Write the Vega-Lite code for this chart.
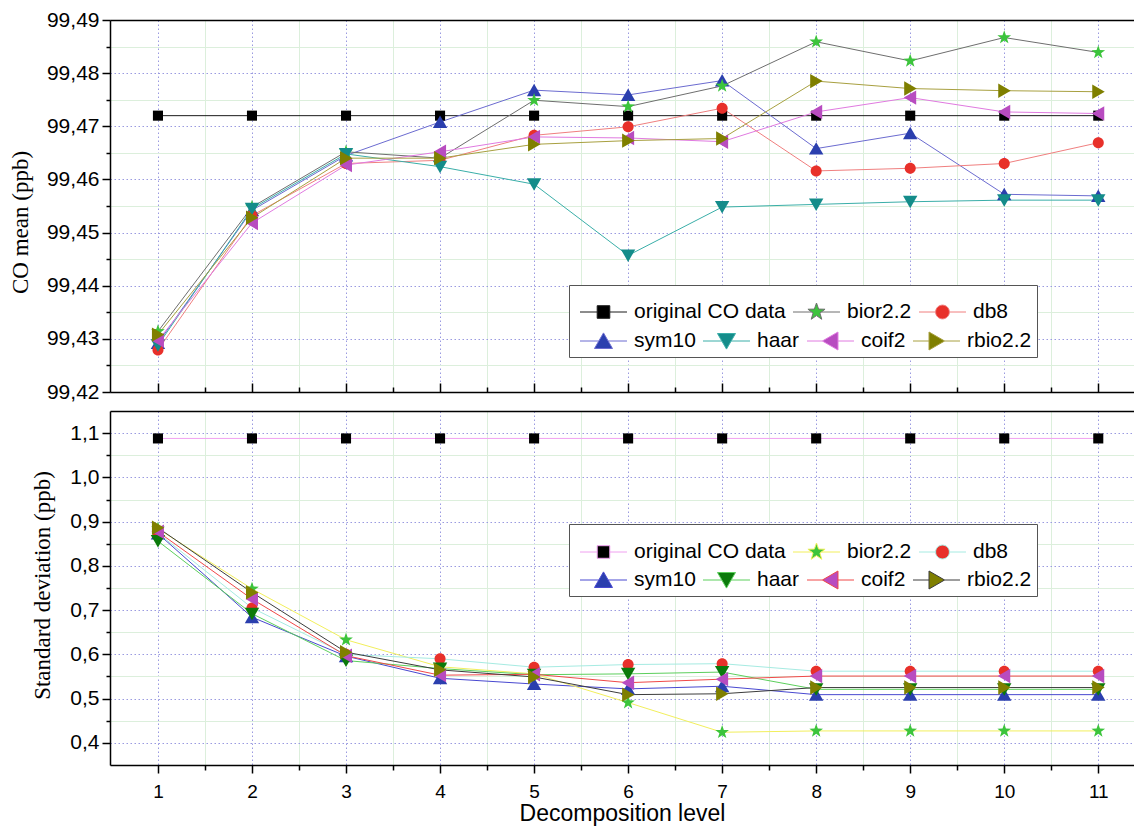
{
  "$schema": "https://vega.github.io/schema/vega-lite/v6.json",
  "background": "white",
  "padding": {"left": 9, "top": 9, "right": 0, "bottom": 4},
  "datasets": {
    "mean": [
      {"l":1,"s":"original CO data","v":99.472},{"l":1,"s":"sym10","v":99.4292},{"l":1,"s":"bior2.2","v":99.4314},{"l":1,"s":"db8","v":99.4279},{"l":1,"s":"haar","v":99.4288},{"l":1,"s":"coif2","v":99.4297},{"l":1,"s":"rbio2.2","v":99.4308},
      {"l":2,"s":"original CO data","v":99.472},{"l":2,"s":"sym10","v":99.4542},{"l":2,"s":"bior2.2","v":99.4548},{"l":2,"s":"db8","v":99.4532},{"l":2,"s":"haar","v":99.4545},{"l":2,"s":"coif2","v":99.4518},{"l":2,"s":"rbio2.2","v":99.4528},
      {"l":3,"s":"original CO data","v":99.472},{"l":3,"s":"sym10","v":99.4645},{"l":3,"s":"bior2.2","v":99.4652},{"l":3,"s":"db8","v":99.463},{"l":3,"s":"haar","v":99.4648},{"l":3,"s":"coif2","v":99.4627},{"l":3,"s":"rbio2.2","v":99.464},
      {"l":4,"s":"original CO data","v":99.472},{"l":4,"s":"sym10","v":99.4708},{"l":4,"s":"bior2.2","v":99.464},{"l":4,"s":"db8","v":99.4636},{"l":4,"s":"haar","v":99.4624},{"l":4,"s":"coif2","v":99.4652},{"l":4,"s":"rbio2.2","v":99.464},
      {"l":5,"s":"original CO data","v":99.472},{"l":5,"s":"sym10","v":99.4768},{"l":5,"s":"bior2.2","v":99.4749},{"l":5,"s":"db8","v":99.4683},{"l":5,"s":"haar","v":99.4591},{"l":5,"s":"coif2","v":99.468},{"l":5,"s":"rbio2.2","v":99.4666},
      {"l":6,"s":"original CO data","v":99.472},{"l":6,"s":"sym10","v":99.4759},{"l":6,"s":"bior2.2","v":99.4737},{"l":6,"s":"db8","v":99.4699},{"l":6,"s":"haar","v":99.4457},{"l":6,"s":"coif2","v":99.4678},{"l":6,"s":"rbio2.2","v":99.4673},
      {"l":7,"s":"original CO data","v":99.472},{"l":7,"s":"sym10","v":99.4786},{"l":7,"s":"bior2.2","v":99.4776},{"l":7,"s":"db8","v":99.4734},{"l":7,"s":"haar","v":99.4548},{"l":7,"s":"coif2","v":99.4671},{"l":7,"s":"rbio2.2","v":99.4677},
      {"l":8,"s":"original CO data","v":99.472},{"l":8,"s":"sym10","v":99.4658},{"l":8,"s":"bior2.2","v":99.4859},{"l":8,"s":"db8","v":99.4616},{"l":8,"s":"haar","v":99.4553},{"l":8,"s":"coif2","v":99.4727},{"l":8,"s":"rbio2.2","v":99.4785},
      {"l":9,"s":"original CO data","v":99.472},{"l":9,"s":"sym10","v":99.4687},{"l":9,"s":"bior2.2","v":99.4823},{"l":9,"s":"db8","v":99.4621},{"l":9,"s":"haar","v":99.4558},{"l":9,"s":"coif2","v":99.4754},{"l":9,"s":"rbio2.2","v":99.4771},
      {"l":10,"s":"original CO data","v":99.472},{"l":10,"s":"sym10","v":99.4572},{"l":10,"s":"bior2.2","v":99.4867},{"l":10,"s":"db8","v":99.463},{"l":10,"s":"haar","v":99.4561},{"l":10,"s":"coif2","v":99.4727},{"l":10,"s":"rbio2.2","v":99.4767},
      {"l":11,"s":"original CO data","v":99.472},{"l":11,"s":"sym10","v":99.4569},{"l":11,"s":"bior2.2","v":99.4839},{"l":11,"s":"db8","v":99.4669},{"l":11,"s":"haar","v":99.4561},{"l":11,"s":"coif2","v":99.4724},{"l":11,"s":"rbio2.2","v":99.4765}
    ],
    "std": [
      {"l":1,"s":"original CO data","v":1.088},{"l":1,"s":"sym10","v":0.873},{"l":1,"s":"bior2.2","v":0.884},{"l":1,"s":"db8","v":0.874},{"l":1,"s":"haar","v":0.856},{"l":1,"s":"coif2","v":0.877},{"l":1,"s":"rbio2.2","v":0.886},
      {"l":2,"s":"original CO data","v":1.088},{"l":2,"s":"sym10","v":0.684},{"l":2,"s":"bior2.2","v":0.748},{"l":2,"s":"db8","v":0.705},{"l":2,"s":"haar","v":0.692},{"l":2,"s":"coif2","v":0.725},{"l":2,"s":"rbio2.2","v":0.74},
      {"l":3,"s":"original CO data","v":1.088},{"l":3,"s":"sym10","v":0.596},{"l":3,"s":"bior2.2","v":0.633},{"l":3,"s":"db8","v":0.6},{"l":3,"s":"haar","v":0.586},{"l":3,"s":"coif2","v":0.597},{"l":3,"s":"rbio2.2","v":0.605},
      {"l":4,"s":"original CO data","v":1.088},{"l":4,"s":"sym10","v":0.546},{"l":4,"s":"bior2.2","v":0.572},{"l":4,"s":"db8","v":0.59},{"l":4,"s":"haar","v":0.568},{"l":4,"s":"coif2","v":0.553},{"l":4,"s":"rbio2.2","v":0.565},
      {"l":5,"s":"original CO data","v":1.088},{"l":5,"s":"sym10","v":0.533},{"l":5,"s":"bior2.2","v":0.556},{"l":5,"s":"db8","v":0.571},{"l":5,"s":"haar","v":0.554},{"l":5,"s":"coif2","v":0.555},{"l":5,"s":"rbio2.2","v":0.549},
      {"l":6,"s":"original CO data","v":1.088},{"l":6,"s":"sym10","v":0.522},{"l":6,"s":"bior2.2","v":0.491},{"l":6,"s":"db8","v":0.577},{"l":6,"s":"haar","v":0.556},{"l":6,"s":"coif2","v":0.536},{"l":6,"s":"rbio2.2","v":0.509},
      {"l":7,"s":"original CO data","v":1.088},{"l":7,"s":"sym10","v":0.528},{"l":7,"s":"bior2.2","v":0.424},{"l":7,"s":"db8","v":0.579},{"l":7,"s":"haar","v":0.56},{"l":7,"s":"coif2","v":0.544},{"l":7,"s":"rbio2.2","v":0.511},
      {"l":8,"s":"original CO data","v":1.088},{"l":8,"s":"sym10","v":0.509},{"l":8,"s":"bior2.2","v":0.427},{"l":8,"s":"db8","v":0.562},{"l":8,"s":"haar","v":0.521},{"l":8,"s":"coif2","v":0.551},{"l":8,"s":"rbio2.2","v":0.525},
      {"l":9,"s":"original CO data","v":1.088},{"l":9,"s":"sym10","v":0.509},{"l":9,"s":"bior2.2","v":0.427},{"l":9,"s":"db8","v":0.562},{"l":9,"s":"haar","v":0.521},{"l":9,"s":"coif2","v":0.551},{"l":9,"s":"rbio2.2","v":0.525},
      {"l":10,"s":"original CO data","v":1.088},{"l":10,"s":"sym10","v":0.509},{"l":10,"s":"bior2.2","v":0.427},{"l":10,"s":"db8","v":0.562},{"l":10,"s":"haar","v":0.521},{"l":10,"s":"coif2","v":0.551},{"l":10,"s":"rbio2.2","v":0.525},
      {"l":11,"s":"original CO data","v":1.088},{"l":11,"s":"sym10","v":0.509},{"l":11,"s":"bior2.2","v":0.427},{"l":11,"s":"db8","v":0.562},{"l":11,"s":"haar","v":0.521},{"l":11,"s":"coif2","v":0.551},{"l":11,"s":"rbio2.2","v":0.525}
    ]
  },
  "spacing": 19,
  "bounds": "flush",
  "resolve": {"scale": {"stroke": "independent", "fill": "independent", "shape": "independent"}},
  "vconcat": [
    {
      "width": 1024,
      "height": 372,
      "data": {"name": "mean"},
      "resolve": {"scale": {"stroke": "independent", "fill": "independent", "shape": "independent"}, "axis": {"x": "independent", "y": "independent"}},
      "layer": [
        {
          "mark": {"type": "line", "strokeWidth": 1},
          "encoding": {
            "x": {"field": "l", "type": "quantitative",
              "scale": {"domain": [0.49, 11.38], "nice": false, "zero": false},
              "axis": {"orient": "bottom", "values": [1,2,3,4,5,6,7,8,9,10,11], "labels": false, "title": null, "tickSize": -9,
                "grid": true, "gridColor": "#9a9ae0", "gridDash": [1.5, 2.5]}},
            "y": {"field": "v", "type": "quantitative",
              "scale": {"domain": [99.42, 99.49], "nice": false, "zero": false},
              "axis": {"orient": "left", "values": [99.42,99.43,99.44,99.45,99.46,99.47,99.48,99.49],
                "labelExpr": "replace(format(datum.value, '.2f'), '.', ',')", "labelFontSize": 21, "labelPadding": 3, "tickSize": 8,
                "grid": true, "gridColor": "#9a9ae0", "gridDash": [1.5, 2.5],
                "title": "CO mean (ppb)", "titleFont": "Liberation Serif", "titleFontSize": 23,
                "titleX": -90, "titleY": 202, "titleBaseline": "middle"}},
            "stroke": {"field": "s", "type": "nominal", "legend": null,
              "scale": {"domain": ["original CO data","bior2.2","db8","sym10","haar","coif2","rbio2.2"],
                "range": ["#1a1a1a","#6e6e6e","#f07f7f","#6b6bd0","#3aaea8","#e07ae0","#a8a040"]}}
          }
        },
        {
          "mark": {"type": "point", "filled": true, "size": 2304, "strokeWidth": 0, "opacity": 1},
          "encoding": {
            "x": {"field": "l", "type": "quantitative",
              "scale": {"domain": [0.49, 11.38], "nice": false, "zero": false},
              "axis": {"orient": "bottom", "values": [1.5,2.5,3.5,4.5,5.5,6.5,7.5,8.5,9.5,10.5], "labels": false, "domain": false, "title": null, "tickSize": -5,
                "grid": true, "gridColor": "#dcefdc", "gridDash": []}},
            "y": {"field": "v", "type": "quantitative",
              "scale": {"domain": [99.42, 99.49], "nice": false, "zero": false},
              "axis": {"orient": "left", "values": [99.425,99.435,99.445,99.455,99.465,99.475,99.485], "labels": false, "domain": false, "title": null, "tickSize": 4,
                "grid": true, "gridColor": "#dcefdc", "gridDash": []}},
            "fill": {"field": "s", "type": "nominal", "legend": null,
              "scale": {"domain": ["original CO data","bior2.2","db8","sym10","haar","coif2","rbio2.2"],
                "range": ["#000000","#3cc43c","#e8302a","#2b3fae","#148c8a","#b84cc0","#7f7f00"]}},
            "shape": {"field": "s", "type": "nominal", "legend": null,
              "scale": {"domain": ["original CO data","bior2.2","db8","sym10","haar","coif2","rbio2.2"],
                "range": [
                  "M-0.21,-0.21H0.21V0.21H-0.21Z",
                  "M0,-0.3L0.0705,-0.0971L0.2853,-0.0927L0.1141,0.0371L0.1763,0.2427L0,0.12L-0.1763,0.2427L-0.1141,0.0371L-0.2853,-0.0927L-0.0705,-0.0971Z",
                  "M-0.23,0A0.23,0.23 0 1,0 0.23,0A0.23,0.23 0 1,0 -0.23,0Z",
                  "M0,-0.27L0.3,0.25L-0.3,0.25Z",
                  "M0,0.27L0.3,-0.25L-0.3,-0.25Z",
                  "M-0.27,0L0.25,-0.3L0.25,0.3Z",
                  "M0.27,0L-0.25,-0.3L-0.25,0.3Z"]}}
          }
        },
        {
          "transform": [{"filter": "false"}],
          "mark": {"type": "point", "filled": true, "opacity": 1},
          "encoding": {
            "x": {"field": "l", "type": "quantitative", "scale": {"domain": [0.49, 11.38], "nice": false, "zero": false}, "axis": null},
            "y": {"field": "v", "type": "quantitative", "scale": {"domain": [99.42, 99.49], "nice": false, "zero": false}, "axis": null},
            "stroke": {"field": "s", "type": "nominal",
              "scale": {"domain": ["original CO data","bior2.2","db8"], "range": ["#1a1a1a","#6e6e6e","#f07f7f"]},
              "legend": {"title": null, "orient": "none", "legendX": 459, "legendY": 276, "direction": "horizontal", "columns": 3,
                "symbolSize": 2704, "symbolStrokeWidth": 1, "symbolOpacity": 1, "clipHeight": 22, "columnPadding": 1,
                "labelOffset": 7, "padding": 5, "zindex": 2}},
            "fill": {"field": "s", "type": "nominal",
              "scale": {"domain": ["original CO data","bior2.2","db8"], "range": ["#000000","#3cc43c","#e8302a"]},
              "legend": {"title": null, "orient": "none", "legendX": 459, "legendY": 276, "direction": "horizontal", "columns": 3,
                "symbolSize": 2704, "symbolStrokeWidth": 1, "symbolOpacity": 1, "clipHeight": 22, "columnPadding": 1,
                "labelOffset": 7, "padding": 5, "zindex": 2}},
            "shape": {"field": "s", "type": "nominal",
              "scale": {"domain": ["original CO data","bior2.2","db8"],
                "range": [
                  "M-0.788,0H-0.127M0.357,0H1.019M-0.127,-0.242H0.357V0.242H-0.127Z",
                  "M-0.788,0H-0.073M0.303,0H1.019M0.115,-0.346L0.1963,-0.112L0.444,-0.1069L0.2466,0.0428L0.3183,0.2799L0.115,0.1384L-0.0883,0.2799L-0.0166,0.0428L-0.214,-0.1069L0.0337,-0.112Z",
                  "M-0.788,0H-0.15M0.38,0H1.019M-0.15,0A0.265,0.265 0 1,0 0.38,0A0.265,0.265 0 1,0 -0.15,0Z"]},
              "legend": {"title": null, "orient": "none", "legendX": 459, "legendY": 276, "direction": "horizontal", "columns": 3,
                "symbolSize": 2704, "symbolStrokeWidth": 1, "symbolOpacity": 1, "clipHeight": 22, "columnPadding": 1,
                "labelOffset": 7, "padding": 5, "zindex": 2}}
          }
        },
        {
          "transform": [{"filter": "false"}],
          "mark": {"type": "point", "filled": true, "opacity": 1},
          "encoding": {
            "x": {"field": "l", "type": "quantitative", "scale": {"domain": [0.49, 11.38], "nice": false, "zero": false}, "axis": null},
            "y": {"field": "v", "type": "quantitative", "scale": {"domain": [99.42, 99.49], "nice": false, "zero": false}, "axis": null},
            "stroke": {"field": "s", "type": "nominal",
              "scale": {"domain": ["sym10","haar","coif2","rbio2.2"], "range": ["#6b6bd0","#3aaea8","#e07ae0","#a8a040"]},
              "legend": {"title": " ", "titleFontSize": 20, "titlePadding": 20, "orient": "none", "legendX": 459, "legendY": 265, "direction": "horizontal", "columns": 4,
                "symbolSize": 2704, "symbolStrokeWidth": 1, "symbolOpacity": 1, "clipHeight": 22, "columnPadding": 1,
                "labelOffset": 7, "padding": 5, "fillColor": "white", "strokeColor": "#555555", "zindex": 1}},
            "fill": {"field": "s", "type": "nominal",
              "scale": {"domain": ["sym10","haar","coif2","rbio2.2"], "range": ["#2b3fae","#148c8a","#b84cc0","#7f7f00"]},
              "legend": {"title": " ", "titleFontSize": 20, "titlePadding": 20, "orient": "none", "legendX": 459, "legendY": 265, "direction": "horizontal", "columns": 4,
                "symbolSize": 2704, "symbolStrokeWidth": 1, "symbolOpacity": 1, "clipHeight": 22, "columnPadding": 1,
                "labelOffset": 7, "padding": 5, "fillColor": "white", "strokeColor": "#555555", "zindex": 1}},
            "shape": {"field": "s", "type": "nominal",
              "scale": {"domain": ["sym10","haar","coif2","rbio2.2"],
                "range": [
                  "M-0.788,0H-0.065M0.295,0H1.019M0.115,-0.3115L0.461,0.288L-0.231,0.288Z",
                  "M-0.788,0H-0.065M0.295,0H1.019M0.115,0.3115L0.461,-0.288L-0.231,-0.288Z",
                  "M-0.788,0H-0.1965M0.403,0H1.019M-0.1965,0L0.403,-0.346L0.403,0.346Z",
                  "M-0.788,0H-0.173M0.4265,0H1.019M0.4265,0L-0.173,-0.346L-0.173,0.346Z"]},
              "legend": {"title": " ", "titleFontSize": 20, "titlePadding": 20, "orient": "none", "legendX": 459, "legendY": 265, "direction": "horizontal", "columns": 4,
                "symbolSize": 2704, "symbolStrokeWidth": 1, "symbolOpacity": 1, "clipHeight": 22, "columnPadding": 1,
                "labelOffset": 7, "padding": 5, "fillColor": "white", "strokeColor": "#555555", "zindex": 1}}
          }
        },
        {
          "mark": {"type": "rule", "opacity": 0},
          "encoding": {
            "x": {"field": "l", "type": "quantitative",
              "scale": {"domain": [0.49, 11.38], "nice": false, "zero": false},
              "axis": {"orient": "top", "ticks": false, "labels": false, "grid": false, "title": null, "domain": true}}
          }
        }
      ]
    },
    {
      "width": 1024,
      "height": 354,
      "data": {"name": "std"},
      "resolve": {"scale": {"stroke": "independent", "fill": "independent", "shape": "independent"}, "axis": {"x": "independent", "y": "independent"}},
      "layer": [
        {
          "mark": {"type": "line", "strokeWidth": 1},
          "encoding": {
            "x": {"field": "l", "type": "quantitative",
              "scale": {"domain": [0.49, 11.38], "nice": false, "zero": false},
              "axis": {"orient": "bottom", "values": [1,2,3,4,5,6,7,8,9,10,11], "labelFontSize": 19, "labelPadding": 9, "tickSize": 8,
                "grid": true, "gridColor": "#9a9ae0", "gridDash": [1.5, 2.5],
                "title": "Decomposition level", "titleFont": "Liberation Sans", "titleFontSize": 23, "titlePadding": 1}},
            "y": {"field": "v", "type": "quantitative",
              "scale": {"domain": [0.35, 1.15], "nice": false, "zero": false},
              "axis": {"orient": "left", "values": [0.4,0.5,0.6,0.7,0.8,0.9,1.0,1.1],
                "labelExpr": "replace(format(datum.value, '.1f'), '.', ',')", "labelFontSize": 21, "labelPadding": 3, "tickSize": 8,
                "grid": true, "gridColor": "#9a9ae0", "gridDash": [1.5, 2.5],
                "title": "Standard deviation (ppb)", "titleFont": "Liberation Serif", "titleFontSize": 23,
                "titleX": -68, "titleY": 174, "titleBaseline": "middle"}},
            "stroke": {"field": "s", "type": "nominal", "legend": null,
              "scale": {"domain": ["original CO data","bior2.2","db8","sym10","haar","coif2","rbio2.2"],
                "range": ["#f0a0f0","#f2ef5c","#a6ebe2","#4848d0","#5ccf5c","#f04848","#3c3c3c"]}}
          }
        },
        {
          "mark": {"type": "point", "filled": true, "size": 2304, "strokeWidth": 0, "opacity": 1},
          "encoding": {
            "x": {"field": "l", "type": "quantitative",
              "scale": {"domain": [0.49, 11.38], "nice": false, "zero": false},
              "axis": {"orient": "bottom", "values": [1.5,2.5,3.5,4.5,5.5,6.5,7.5,8.5,9.5,10.5], "labels": false, "domain": false, "title": null, "tickSize": 5,
                "grid": true, "gridColor": "#dcefdc", "gridDash": []}},
            "y": {"field": "v", "type": "quantitative",
              "scale": {"domain": [0.35, 1.15], "nice": false, "zero": false},
              "axis": {"orient": "left", "values": [0.45,0.55,0.65,0.75,0.85,0.95,1.05], "labels": false, "domain": false, "title": null, "tickSize": 4,
                "grid": true, "gridColor": "#dcefdc", "gridDash": []}},
            "fill": {"field": "s", "type": "nominal", "legend": null,
              "scale": {"domain": ["original CO data","bior2.2","db8","sym10","haar","coif2","rbio2.2"],
                "range": ["#000000","#3cc43c","#e8302a","#2b3fae","#0b7a0b","#b84cc0","#7f7f00"]}},
            "shape": {"field": "s", "type": "nominal", "legend": null,
              "scale": {"domain": ["original CO data","bior2.2","db8","sym10","haar","coif2","rbio2.2"],
                "range": [
                  "M-0.21,-0.21H0.21V0.21H-0.21Z",
                  "M0,-0.3L0.0705,-0.0971L0.2853,-0.0927L0.1141,0.0371L0.1763,0.2427L0,0.12L-0.1763,0.2427L-0.1141,0.0371L-0.2853,-0.0927L-0.0705,-0.0971Z",
                  "M-0.23,0A0.23,0.23 0 1,0 0.23,0A0.23,0.23 0 1,0 -0.23,0Z",
                  "M0,-0.27L0.3,0.25L-0.3,0.25Z",
                  "M0,0.27L0.3,-0.25L-0.3,-0.25Z",
                  "M-0.27,0L0.25,-0.3L0.25,0.3Z",
                  "M0.27,0L-0.25,-0.3L-0.25,0.3Z"]}}
          }
        },
        {
          "transform": [{"filter": "false"}],
          "mark": {"type": "point", "filled": true, "opacity": 1},
          "encoding": {
            "x": {"field": "l", "type": "quantitative", "scale": {"domain": [0.49, 11.38], "nice": false, "zero": false}, "axis": null},
            "y": {"field": "v", "type": "quantitative", "scale": {"domain": [0.35, 1.15], "nice": false, "zero": false}, "axis": null},
            "stroke": {"field": "s", "type": "nominal",
              "scale": {"domain": ["original CO data","bior2.2","db8"], "range": ["#f0a0f0","#f2ef5c","#a6ebe2"]},
              "legend": {"title": null, "orient": "none", "legendX": 459, "legendY": 125, "direction": "horizontal", "columns": 3,
                "symbolSize": 2704, "symbolStrokeWidth": 1, "symbolOpacity": 1, "clipHeight": 22, "columnPadding": 1,
                "labelOffset": 7, "padding": 5, "zindex": 2}},
            "fill": {"field": "s", "type": "nominal",
              "scale": {"domain": ["original CO data","bior2.2","db8"], "range": ["#000000","#3cc43c","#e8302a"]},
              "legend": {"title": null, "orient": "none", "legendX": 459, "legendY": 125, "direction": "horizontal", "columns": 3,
                "symbolSize": 2704, "symbolStrokeWidth": 1, "symbolOpacity": 1, "clipHeight": 22, "columnPadding": 1,
                "labelOffset": 7, "padding": 5, "zindex": 2}},
            "shape": {"field": "s", "type": "nominal",
              "scale": {"domain": ["original CO data","bior2.2","db8"],
                "range": [
                  "M-0.788,0H-0.127M0.357,0H1.019M-0.127,-0.242H0.357V0.242H-0.127Z",
                  "M-0.788,0H-0.073M0.303,0H1.019M0.115,-0.346L0.1963,-0.112L0.444,-0.1069L0.2466,0.0428L0.3183,0.2799L0.115,0.1384L-0.0883,0.2799L-0.0166,0.0428L-0.214,-0.1069L0.0337,-0.112Z",
                  "M-0.788,0H-0.15M0.38,0H1.019M-0.15,0A0.265,0.265 0 1,0 0.38,0A0.265,0.265 0 1,0 -0.15,0Z"]},
              "legend": {"title": null, "orient": "none", "legendX": 459, "legendY": 125, "direction": "horizontal", "columns": 3,
                "symbolSize": 2704, "symbolStrokeWidth": 1, "symbolOpacity": 1, "clipHeight": 22, "columnPadding": 1,
                "labelOffset": 7, "padding": 5, "zindex": 2}}
          }
        },
        {
          "transform": [{"filter": "false"}],
          "mark": {"type": "point", "filled": true, "opacity": 1},
          "encoding": {
            "x": {"field": "l", "type": "quantitative", "scale": {"domain": [0.49, 11.38], "nice": false, "zero": false}, "axis": null},
            "y": {"field": "v", "type": "quantitative", "scale": {"domain": [0.35, 1.15], "nice": false, "zero": false}, "axis": null},
            "stroke": {"field": "s", "type": "nominal",
              "scale": {"domain": ["sym10","haar","coif2","rbio2.2"], "range": ["#4848d0","#5ccf5c","#f04848","#3c3c3c"]},
              "legend": {"title": " ", "titleFontSize": 20, "titlePadding": 20, "orient": "none", "legendX": 459, "legendY": 113, "direction": "horizontal", "columns": 4,
                "symbolSize": 2704, "symbolStrokeWidth": 1, "symbolOpacity": 1, "clipHeight": 22, "columnPadding": 1,
                "labelOffset": 7, "padding": 5, "fillColor": "white", "strokeColor": "#555555", "zindex": 1}},
            "fill": {"field": "s", "type": "nominal",
              "scale": {"domain": ["sym10","haar","coif2","rbio2.2"], "range": ["#2b3fae","#0b7a0b","#b84cc0","#7f7f00"]},
              "legend": {"title": " ", "titleFontSize": 20, "titlePadding": 20, "orient": "none", "legendX": 459, "legendY": 113, "direction": "horizontal", "columns": 4,
                "symbolSize": 2704, "symbolStrokeWidth": 1, "symbolOpacity": 1, "clipHeight": 22, "columnPadding": 1,
                "labelOffset": 7, "padding": 5, "fillColor": "white", "strokeColor": "#555555", "zindex": 1}},
            "shape": {"field": "s", "type": "nominal",
              "scale": {"domain": ["sym10","haar","coif2","rbio2.2"],
                "range": [
                  "M-0.788,0H-0.065M0.295,0H1.019M0.115,-0.3115L0.461,0.288L-0.231,0.288Z",
                  "M-0.788,0H-0.065M0.295,0H1.019M0.115,0.3115L0.461,-0.288L-0.231,-0.288Z",
                  "M-0.788,0H-0.1965M0.403,0H1.019M-0.1965,0L0.403,-0.346L0.403,0.346Z",
                  "M-0.788,0H-0.173M0.4265,0H1.019M0.4265,0L-0.173,-0.346L-0.173,0.346Z"]},
              "legend": {"title": " ", "titleFontSize": 20, "titlePadding": 20, "orient": "none", "legendX": 459, "legendY": 113, "direction": "horizontal", "columns": 4,
                "symbolSize": 2704, "symbolStrokeWidth": 1, "symbolOpacity": 1, "clipHeight": 22, "columnPadding": 1,
                "labelOffset": 7, "padding": 5, "fillColor": "white", "strokeColor": "#555555", "zindex": 1}}
          }
        },
        {
          "mark": {"type": "rule", "opacity": 0},
          "encoding": {
            "x": {"field": "l", "type": "quantitative",
              "scale": {"domain": [0.49, 11.38], "nice": false, "zero": false},
              "axis": {"orient": "top", "ticks": false, "labels": false, "grid": false, "title": null, "domain": true}}
          }
        }
      ]
    }
  ],
  "config": {
    "view": {"stroke": null},
    "axis": {"domainColor": "black", "domainWidth": 1.5, "tickColor": "black", "tickWidth": 1.5,
      "labelFont": "Liberation Sans", "labelFontSize": 19, "labelColor": "black",
      "titleColor": "black", "titleFontWeight": "normal", "gridWidth": 1, "gridOpacity": 1},
    "legend": {"labelFont": "Liberation Sans", "labelFontSize": 21, "labelColor": "black", "labelLimit": 400}
  }
}
